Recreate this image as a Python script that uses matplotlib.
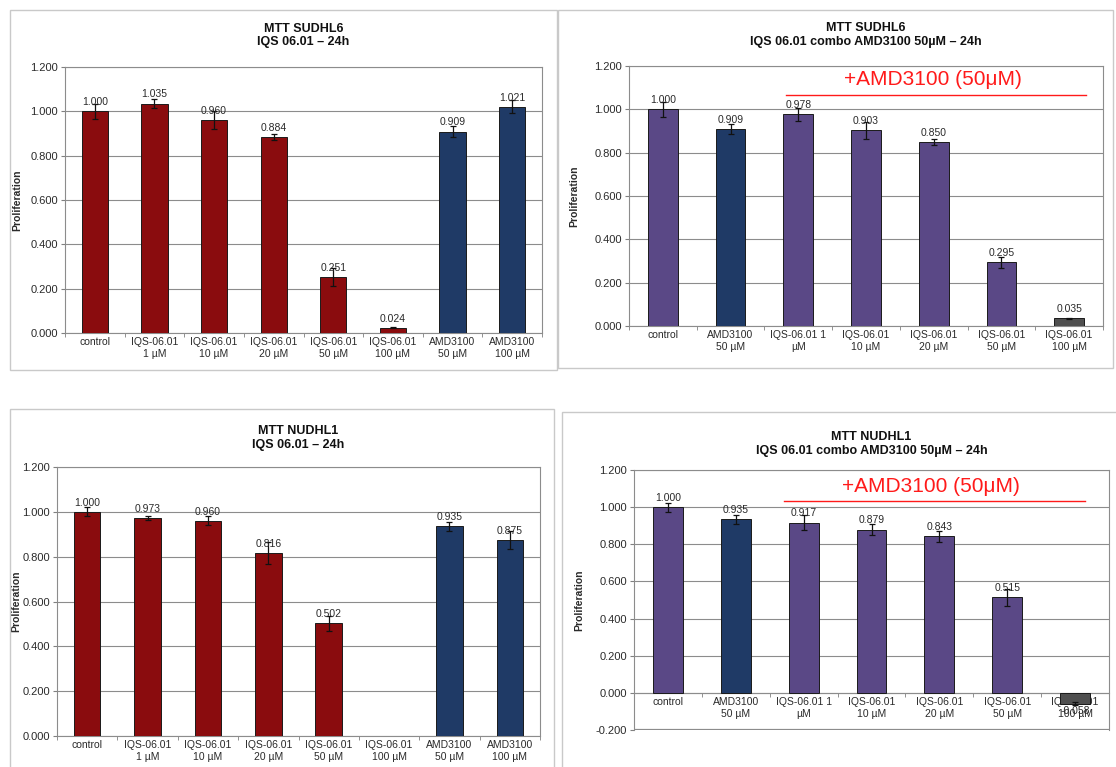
import numpy as np
import matplotlib
matplotlib.use("Agg")
import matplotlib.pyplot as plt
from matplotlib.patches import Rectangle

plt.rcParams["font.family"] = ["Liberation Sans", "DejaVu Sans"]

# ---- data -------------------------------------------------------------
single_cats = ["control", "IQS-06.01\n1 µM", "IQS-06.01\n10 µM", "IQS-06.01\n20 µM",
               "IQS-06.01\n50 µM", "IQS-06.01\n100 µM", "AMD3100\n50 µM", "AMD3100\n100 µM"]
combo_cats = ["control", "AMD3100\n50 µM", "IQS-06.01 1\nµM", "IQS-06.01\n10 µM",
              "IQS-06.01\n20 µM", "IQS-06.01\n50 µM", "IQS-06.01\n100 µM"]

sudhl6_single = [1.000, 1.035, 0.960, 0.884, 0.251, 0.024, 0.909, 1.021]
sudhl6_single_err = [0.035, 0.020, 0.040, 0.012, 0.040, 0.003, 0.025, 0.030]

sudhl6_combo = [1.000, 0.909, 0.978, 0.903, 0.850, 0.295, 0.035]
sudhl6_combo_err = [0.035, 0.025, 0.030, 0.040, 0.015, 0.025, 0.003]

nudhl1_single = [1.000, 0.973, 0.960, 0.816, 0.502, np.nan, 0.935, 0.875]
nudhl1_single_err = [0.020, 0.010, 0.020, 0.050, 0.035, np.nan, 0.020, 0.040]

nudhl1_combo = [1.000, 0.935, 0.917, 0.879, 0.843, 0.515, -0.058]
nudhl1_combo_err = [0.025, 0.025, 0.040, 0.030, 0.030, 0.045, 0.010]

titles = ["MTT SUDHL6\nIQS 06.01 – 24h",
          "MTT SUDHL6\nIQS 06.01 combo AMD3100 50µM – 24h",
          "MTT NUDHL1\nIQS 06.01 – 24h",
          "MTT NUDHL1\nIQS 06.01 combo AMD3100 50µM – 24h"]

RED = "#8a0c0e"
BLUE = "#1f3a66"
PURPLE = "#5a4886"
GRAY = "#4f4f4f"
single_colors = [RED] * 6 + [BLUE] * 2
combo_colors = [PURPLE, BLUE, PURPLE, PURPLE, PURPLE, PURPLE, GRAY]

TXT = "#2a2a2a"

W, H = 1116, 767
fig = plt.figure(figsize=(W / 100, H / 100), dpi=100)
fig.patch.set_facecolor("white")


def px_rect(x0, y0, x1, y1):
    """Figure-fraction rect from pixel box (top-left origin)."""
    return [x0 / W, 1 - y1 / H, (x1 - x0) / W, (y1 - y0) / H]


# chart frames
for (x0, y0, x1, y1) in [(10, 10, 557, 370), (558, 10, 1113, 368),
                         (10, 409, 554, 772), (562, 412, 1120, 772)]:
    fig.patches.append(Rectangle((x0 / W, 1 - y1 / H), (x1 - x0) / W, (y1 - y0) / H,
                                 transform=fig.transFigure, fill=False,
                                 edgecolor="#c9c9c9", linewidth=1.0))


def draw_panel(box, cats, vals, errs, colors, title, ymin, ylab_x, title_y):
    ax = fig.add_axes(px_rect(*box))
    for s in ax.spines.values():
        s.set_color("#8c8c8c")
        s.set_linewidth(0.8)
    if ymin < 0:
        # category axis crosses at zero
        ax.spines["bottom"].set_position(("data", 0))
        ax.axhline(ymin, color="#8c8c8c", linewidth=1.6, zorder=1)
    x = np.arange(len(cats))
    ax.bar(x, vals, width=0.44, color=colors, edgecolor="#1a1a1a", linewidth=0.7, zorder=3)
    ax.errorbar(x, vals, yerr=errs, fmt="none", ecolor="#111111", elinewidth=0.9,
                capsize=2.5, capthick=0.9, zorder=4)
    for xi, v in zip(x, vals):
        if np.isnan(v):
            continue
        if v >= 0:
            ax.annotate(f"{v:.3f}", (xi, v), xytext=(0, 3), textcoords="offset points",
                        ha="center", va="bottom", fontsize=7.5, color=TXT, zorder=5)
        else:
            ax.annotate(f"{v:.3f}", (xi, v), xytext=(0, -2), textcoords="offset points",
                        ha="center", va="top", fontsize=7.5, color=TXT, zorder=5)
    ax.set_xlim(-0.5, len(cats) - 0.5)
    ax.set_ylim(ymin, 1.2)
    ticks = np.arange(ymin, 1.2001, 0.2)
    ax.set_yticks(ticks)
    ax.set_yticklabels([f"{t:.3f}" if abs(t) > 1e-9 else "0.000" for t in ticks],
                       fontsize=8, color=TXT)
    ax.set_xticks(x)
    ax.set_xticklabels(cats, fontsize=7.5, color=TXT, linespacing=1.25)
    ax.set_xticks(np.arange(-0.5, len(cats), 1.0), minor=True)
    ax.tick_params(axis="x", which="major", length=0, pad=3)
    ax.tick_params(axis="x", which="minor", length=3, color="#808080")
    ax.tick_params(axis="y", length=3, color="#808080", pad=2)
    ax.grid(axis="y", color="#8c8c8c", linewidth=0.8, zorder=0)
    ax.set_axisbelow(True)
    ax.set_ylabel("Proliferation", fontsize=7.5, fontweight="bold", color=TXT)
    ax.yaxis.set_label_coords(ylab_x, 0.5)
    ax.set_title(title, fontsize=9, fontweight="bold", color="#111111", y=title_y,
                 linespacing=1.2)
    return ax


ax1 = draw_panel((65, 67, 542, 333), single_cats, sudhl6_single, sudhl6_single_err,
                 single_colors, titles[0], 0.0, -0.09, 1.05)
ax2 = draw_panel((629, 66, 1103, 326), combo_cats, sudhl6_combo, sudhl6_combo_err,
                 combo_colors, titles[1], 0.0, -0.105, 1.05)
ax3 = draw_panel((57, 467, 540, 736), single_cats, nudhl1_single, nudhl1_single_err,
                 single_colors, titles[2], 0.0, -0.075, 1.04)
ax4 = draw_panel((634, 470, 1109, 730), combo_cats, nudhl1_combo, nudhl1_combo_err,
                 combo_colors, titles[3], -0.2, -0.105, 1.03)

# "+AMD3100 (50µM)" bracket over the combination treatments
for ax, line_y, text_y, x0, x1 in [(ax2, 1.065, 1.138, 1.82, 6.25),
                                    (ax4, 1.035, 1.11, 1.71, 6.15)]:
    ax.plot([x0, x1], [line_y, line_y], color="#ff1a1a", linewidth=1.0,
            clip_on=False, zorder=6)
    ax.text((x0 + x1) / 2 - 0.05, text_y, "+AMD3100 (50μM)", color="#ff1a1a",
            fontsize=15, ha="center", va="center", zorder=6)

fig.savefig("out.png", dpi=100, facecolor="white")
